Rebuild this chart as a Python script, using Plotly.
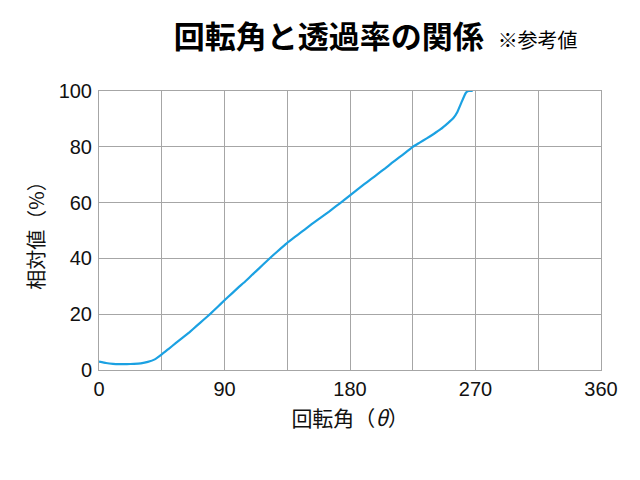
import plotly.graph_objects as go

angle_deg = [0, 5, 10, 15, 20, 25, 30, 35, 40, 45, 50, 55, 60, 65, 70, 75, 80, 85, 90,
             95, 100, 105, 110, 115, 120, 125, 130, 135, 140, 145, 150, 155, 160, 165,
             170, 175, 180, 185, 190, 195, 200, 205, 210, 215, 220, 225, 230, 235, 240,
             245, 250, 254, 257, 260, 263, 265, 268]
relative_pct = [3.0, 2.5, 2.2, 2.1, 2.1, 2.2, 2.4, 2.9, 3.8, 5.6, 7.6, 9.6, 11.6, 13.6,
                15.8, 18.0, 20.2, 22.6, 25.0, 27.3, 29.6, 31.8, 34.2, 36.5, 38.9, 41.2,
                43.4, 45.6, 47.5, 49.4, 51.3, 53.2, 55.0, 56.8, 58.7, 60.6, 62.6, 64.6,
                66.5, 68.4, 70.3, 72.2, 74.2, 76.1, 78.0, 80.0, 81.5, 83.0, 84.6, 86.3,
                88.4, 90.2, 92.5, 96.0, 99.3, 100.0, 100.0]

x_tickvals = [0, 45, 90, 135, 180, 225, 270, 315, 360]
x_ticktext = ["0", "", "90", "", "180", "", "270", "", "360"]
y_tickvals = [0, 20, 40, 60, 80, 100]
y_ticktext = ["0", "20", "40", "60", "80", "100"]

title_main = "回転角と透過率の関係"
title_note = "※参考値"
x_title = "回転角（<i>θ</i>）"
y_title = "相対値（%）"

fig = go.Figure()
fig.add_trace(go.Scatter(x=angle_deg, y=relative_pct, mode="lines",
                         line=dict(color="#1ba1e2", width=2.2, shape="spline", smoothing=0.3),
                         showlegend=False))

grid = "#a6a6a6"
tick_font = dict(family="Liberation Sans, Arial, sans-serif", size=20, color="#111")
fig.update_layout(
    width=640, height=480,
    margin=dict(l=99, r=39, t=91, b=110),
    paper_bgcolor="white", plot_bgcolor="white",
    font=dict(family="Noto Sans CJK JP, sans-serif", color="#111"),
    title=dict(text=f"<b>{title_main}</b>&nbsp;&nbsp;<span style='font-size:20px;font-weight:normal'>{title_note}</span>",
               x=0.587, xanchor="center", y=0.923, yanchor="middle",
               font=dict(family="Noto Sans CJK JP, sans-serif", size=31, color="#000")),
    xaxis=dict(range=[0, 360], tickvals=x_tickvals, ticktext=x_ticktext,
               showgrid=True, gridcolor=grid, gridwidth=1,
               showline=True, linecolor=grid, mirror=True, zeroline=False,
               ticks="", tickfont=tick_font, ticklabelstandoff=1,
               title=dict(text=x_title, font=dict(size=21), standoff=12)),
    yaxis=dict(range=[0, 100], tickvals=y_tickvals, ticktext=y_ticktext,
               showgrid=True, gridcolor=grid, gridwidth=1,
               showline=True, linecolor=grid, mirror=True, zeroline=False,
               ticks="", tickfont=tick_font, ticklabelstandoff=2,
               title=dict(text=y_title, font=dict(size=20), standoff=8)),
)

fig.write_html("out.html")
